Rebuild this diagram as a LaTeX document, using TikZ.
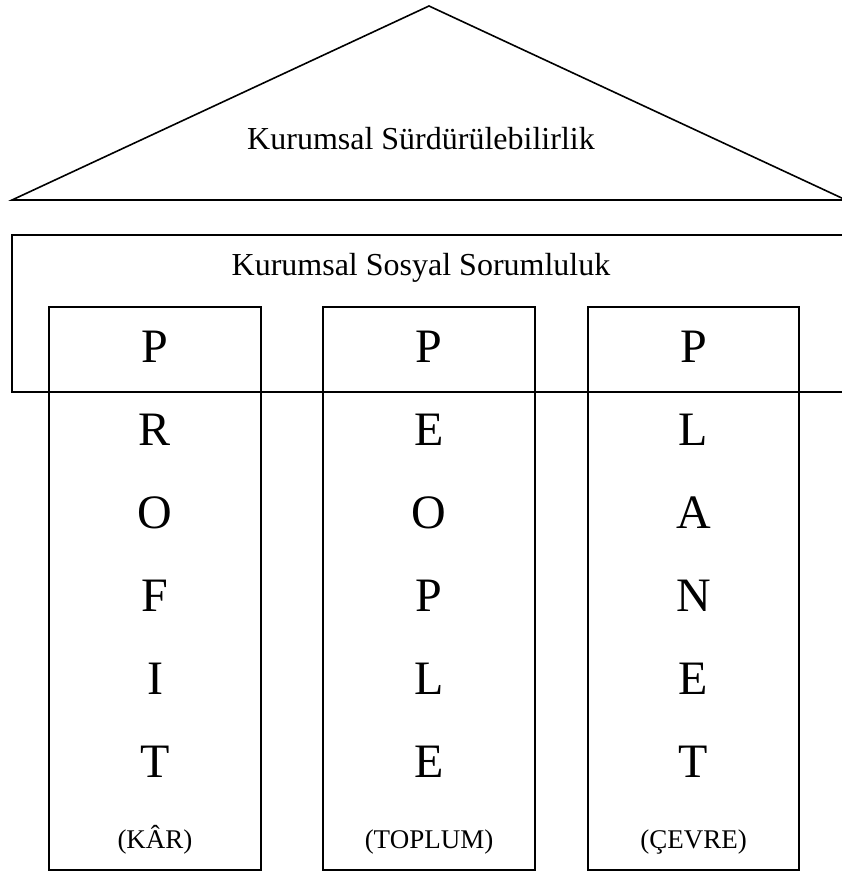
\documentclass[tikz,border=0pt]{standalone}
\usepackage{fontspec}
\setmainfont{Liberation Serif}
\begin{document}
\begin{tikzpicture}[x=1pt,y=-1pt,
  frame/.style={draw=black,line width=1.6pt,line join=miter},
  title/.style={anchor=base,inner sep=0pt,font=\fontsize{32}{36}\selectfont},
  letter/.style={anchor=base,inner sep=0pt,font=\fontsize{48}{54}\selectfont},
  meaning/.style={anchor=base,inner sep=0pt,font=\fontsize{27}{30}\selectfont}]
\useasboundingbox (0,0) rectangle (842,872);

% roof
\coordinate (roofL) at (12,200);
\coordinate (roofT) at (429,6);
\coordinate (roofR) at (846,200);
\draw[frame] (roofL) -- (roofT) -- (roofR) -- cycle;
\node[title] (sust) at (421,149) {Kurumsal Sürdürülebilirlik};

% beam, open on the right
\coordinate (beamTR) at (850,235);
\coordinate (beamTL) at (12,235);
\coordinate (beamBL) at (12,392);
\coordinate (beamBR) at (850,392);
\draw[frame] (beamTR) -- (beamTL) -- (beamBL) -- (beamBR);
\node[title] (css) at (421,275) {Kurumsal Sosyal Sorumluluk};

% pillars
\draw[frame] (49,307) rectangle (261,870);
\draw[frame] (323,307) rectangle (535,870);
\draw[frame] (588,307) rectangle (799,870);

% pillar letters
\foreach \cx/\word/\sub [count=\i] in {155/{P,R,O,F,I,T}/(KÂR), 429/{P,E,O,P,L,E}/(TOPLUM), 693.5/{P,L,A,N,E,T}/(ÇEVRE)}{
  \foreach \ch [count=\j] in \word {
    \node[letter] (l\i\j) at (\cx,{362+83*(\j-1)}) {\ch};
  }
  \node[meaning] (m\i) at (\cx,848) {\sub};
}
\end{tikzpicture}
\end{document}
